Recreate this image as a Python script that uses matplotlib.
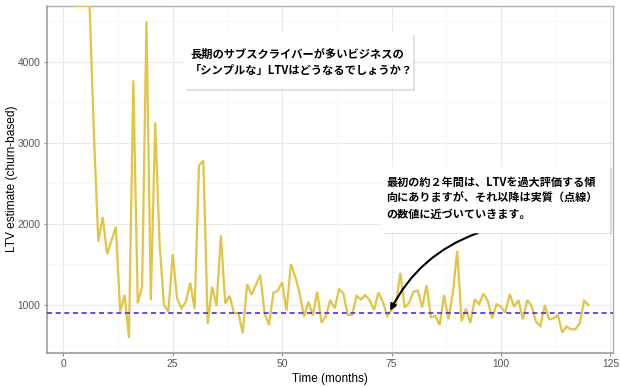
import matplotlib
matplotlib.use("Agg")
import matplotlib.pyplot as plt
import matplotlib.patheffects as pe
from matplotlib.patches import Rectangle
import numpy as np

# monthly LTV estimate (months 3-6 run off the top)
months = np.arange(3, 121)
ltv = [
    6000, 6000, 6000, 6000, 3100, 1780, 2086, 1627, 1795, 1963,
    918, 1123, 594, 3770, 1020, 1225, 4497, 1060, 3250, 1750,
    1000, 920, 1630, 1080, 960, 1040, 1275, 950, 2720, 2780,
    770, 1225, 990, 1860, 1020, 1115, 900, 900, 650, 1260,
    1125, 1245, 1370, 898, 754, 1151, 1176, 1279, 930, 1504,
    1348, 1144, 856, 1040, 870, 1164, 783, 865, 1061, 959,
    1193, 1144, 877, 877, 1111, 1070, 1123, 1057, 938, 1156,
    1040, 865, 938, 1000, 1397, 967, 1028, 1164, 1176, 971,
    1246, 848, 865, 754, 1123, 824, 1144, 1668, 800, 955,
    780, 1070, 1010, 1140, 1050, 836, 1008, 979, 905, 1135,
    979, 1061, 824, 1061, 988, 795, 742, 1000, 824, 836,
    877, 660, 734, 701, 701, 775, 1053, 1000,
]
true_ltv = 905

x_ticks = [0, 25, 50, 75, 100, 125]
y_ticks = [1000, 2000, 3000, 4000]
x_lim = (-3.8, 125.5)
y_lim = (412, 4690)

title_note = "長期のサブスクライバーが多いビジネスの\n「シンプルな」LTVはどうなるでしょうか？"
arrow_note = "最初の約２年間は、LTVを過大評価する傾\n向にありますが、それ以降は実質（点線）\nの数値に近づいていきます。"

plt.rcParams['font.family'] = ['Liberation Sans', 'DejaVu Sans']
jp_font = ['Noto Sans CJK JP', 'DejaVu Sans']

fig = plt.figure(figsize=(6.2, 3.87), dpi=100)
ax = fig.add_axes([0.0753, 0.0886, 0.9127, 0.8966])

# values above the panel get squished onto the top edge
vals = np.clip(np.array(ltv, dtype=float), None, y_lim[1])
ax.plot(months, vals, color='#E2C446', lw=1.6, zorder=3, solid_joinstyle='miter')
ax.axhline(true_ltv, color='#4C2FDB', lw=1.2, ls=(0, (3, 2.2)), zorder=4)

ax.set_xlim(*x_lim)
ax.set_ylim(*y_lim)
ax.set_xticks(x_ticks)
ax.set_yticks(y_ticks)
ax.set_xticks([12.5, 37.5, 62.5, 87.5, 112.5], minor=True)
ax.set_yticks([500, 1500, 2500, 3500, 4500], minor=True)
ax.grid(which='major', color='#EBEBEB', lw=0.8, zorder=0)
ax.grid(which='minor', color='#F4F4F4', lw=0.5, zorder=0)
ax.tick_params(which='major', length=2.5, width=0.6, color='#777777',
               labelsize=7.4, labelcolor='#555555', pad=2)
ax.tick_params(which='minor', length=0)
for side in ['top', 'right']:
    ax.spines[side].set_color('#B0B0B0')
    ax.spines[side].set_linewidth(1.0)
for side in ['left', 'bottom']:
    ax.spines[side].set_color('#959595')
    ax.spines[side].set_linewidth(1.1)

ax.set_xlabel("Time (months)", fontsize=8.5, labelpad=3)
ax.set_ylabel("LTV estimate (churn-based)", fontsize=8.6, labelpad=-0.5)

shadow = [pe.withSimplePatchShadow(offset=(1.2, -1.2), shadow_rgbFace='#AAAAAA', alpha=0.35)]

# question box
box1 = Rectangle((27.6, 3663), 52.3, 691, facecolor='white', edgecolor='none',
                 zorder=5, path_effects=shadow)
ax.add_patch(box1)
ax.text(29.0, 3990, title_note, family=jp_font, fontweight='bold', fontsize=8.1,
        ha='left', va='center', linespacing=1.35, zorder=6)

# explanation box with arrow
ax.annotate('', xy=(74.7, 930), xytext=(94.8, 1890),
            arrowprops=dict(arrowstyle='-|>', color='black', lw=1.5,
                            mutation_scale=9, connectionstyle='arc3,rad=0.2',
                            shrinkA=0, shrinkB=0),
            zorder=4)
box2 = Rectangle((72.8, 1891), 52.1, 814, facecolor='white', edgecolor='none',
                 zorder=5, path_effects=shadow)
ax.add_patch(box2)
ax.text(73.8, 2313, arrow_note, family=jp_font, fontweight='bold', fontsize=8.0,
        ha='left', va='center', linespacing=1.3, zorder=6)

fig.savefig("out.png", dpi=100)
